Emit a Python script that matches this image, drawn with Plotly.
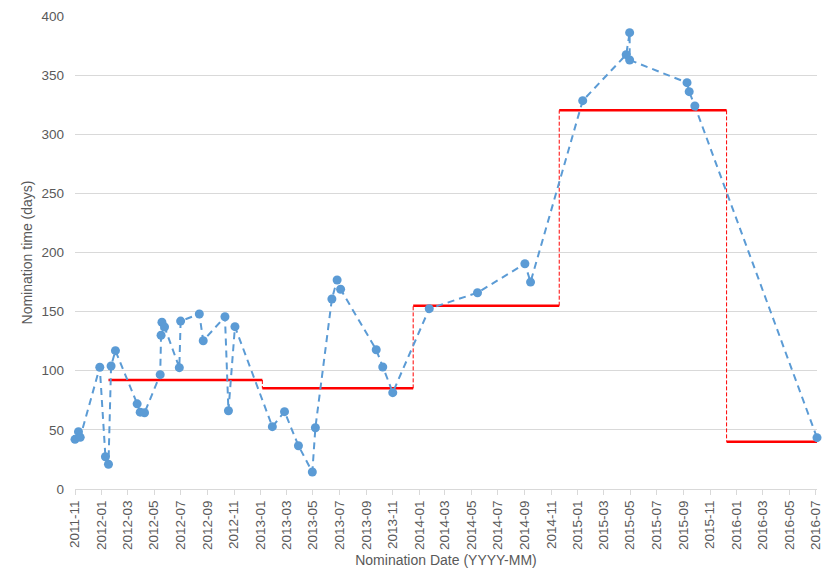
import plotly.graph_objects as go

# Nomination data (date, days)
dates = [
    "2011-11-01", "2011-11-09", "2011-11-13", "2011-12-28", "2012-01-10", "2012-01-17",
    "2012-01-23", "2012-02-02", "2012-03-23", "2012-03-30", "2012-04-09", "2012-05-15",
    "2012-05-17", "2012-05-19", "2012-05-25", "2012-06-28", "2012-07-01", "2012-08-13",
    "2012-08-22", "2012-10-11", "2012-10-19", "2012-11-03", "2013-01-28", "2013-02-25",
    "2013-03-29", "2013-04-30", "2013-05-07", "2013-06-14", "2013-06-26", "2013-07-04",
    "2013-09-24", "2013-10-09", "2013-11-01", "2014-01-24", "2014-05-15", "2014-09-01",
    "2014-09-14", "2015-01-12", "2015-04-22", "2015-04-30", "2015-04-30", "2015-09-09",
    "2015-09-14", "2015-09-27", "2016-07-04",
]
days = [
    42, 48.5, 43.7, 103, 27.3, 20.9,
    104, 117, 72, 65, 64.5, 96.7,
    130, 141, 137, 102.6, 142, 148,
    125.4, 145.7, 66.2, 137.3, 52.7, 65.4,
    36.6, 14.4, 51.8, 160.7, 176.7, 168.9,
    117.8, 103.2, 81.5, 152.5, 166, 190.5,
    175, 328.4, 367.3, 385.9, 362.8, 343.6,
    336, 323.9, 43.4,
]

# Period averages (step line)
step_edges = ["2012-01-17", "2013-01-05", "2013-12-18", "2014-11-19", "2015-12-09", "2016-07-04"]
step_values = [92.2, 85.1, 155, 320.2, 40]

tick_color = "#595959"
font_family = "Liberation Sans, Arial, sans-serif"

fig = go.Figure()

# horizontal solid segments
hx, hy = [], []
for i, v in enumerate(step_values):
    hx += [step_edges[i], step_edges[i + 1], None]
    hy += [v, v, None]
fig.add_trace(go.Scatter(x=hx, y=hy, mode="lines",
                         line=dict(color="#FF0000", width=2.5),
                         showlegend=False, hoverinfo="skip", cliponaxis=False))

# vertical dashed connectors
vx, vy = [], []
for i in range(1, len(step_values)):
    vx += [step_edges[i], step_edges[i], None]
    vy += [step_values[i - 1], step_values[i], None]
fig.add_trace(go.Scatter(x=vx, y=vy, mode="lines",
                         line=dict(color="#FF0000", width=1, dash="4px,2px"),
                         showlegend=False, hoverinfo="skip", cliponaxis=False))

fig.add_trace(go.Scatter(x=dates, y=days, mode="lines+markers",
                         line=dict(color="#5B9BD5", width=2, dash="7px,5px"),
                         marker=dict(color="#5B9BD5", size=9),
                         showlegend=False, cliponaxis=False))

fig.update_layout(
    width=831, height=582,
    margin=dict(l=75, r=14, t=16, b=93, autoexpand=False),
    paper_bgcolor="white", plot_bgcolor="white",
    font=dict(family=font_family, size=13.5, color=tick_color),
)
fig.update_xaxes(
    type="date",
    range=["2011-11-01", "2016-07-04"],
    tick0="2011-11-01", dtick="M2", tickformat="%Y-%m",
    tickangle=-90, automargin=False,
    showgrid=False, zeroline=False,
    showline=True, linecolor="#D9D9D9", linewidth=1,
    ticks="outside", ticklen=5, tickcolor="#D9D9D9",
    tickfont=dict(size=13.5, color=tick_color),
    title=dict(text="Nomination Date (YYYY-MM)", font=dict(size=14, color=tick_color), standoff=6),
)
fig.update_yaxes(
    range=[0, 400], dtick=50, automargin=False,
    showgrid=True, gridcolor="#D9D9D9", gridwidth=1,
    zeroline=False, showline=False,
    ticklabelstandoff=10,
    tickfont=dict(size=13.5, color=tick_color),
    title=dict(text="Nomination time (days)", font=dict(size=14, color=tick_color), standoff=5),
)

fig.write_html("out.html", config={"displayModeBar": False},
               post_script="document.body.style.margin='0';")
